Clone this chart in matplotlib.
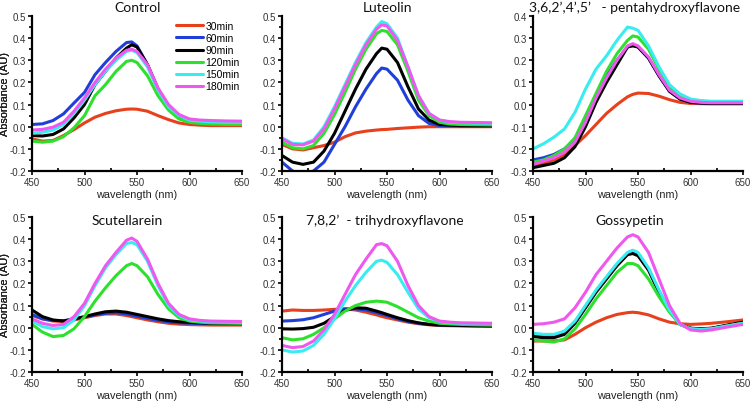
import matplotlib
matplotlib.use("Agg")
import matplotlib.pyplot as plt
from matplotlib.ticker import MultipleLocator, FormatStrFormatter

wavelength = [450, 460, 470, 480, 490, 500, 510, 520, 530, 540, 545, 550,
              560, 570, 580, 590, 600, 610, 620, 635, 650]

labels = ["30min", "60min", "90min", "120min", "150min", "180min"]
colors = ["#e8401c", "#1f3fd8", "#000000", "#2ee02e", "#38ecf0", "#ee58ee"]

titles = ["Control", "Luteolin", "3,6,2\u2019,4\u2019,5\u2019   - pentahydroxyflavone",
          "Scutellarein", "7,8,2\u2019  - trihydroxyflavone", "Gossypetin"]

# ---- Control ----
control_30 = [-0.055, -0.065, -0.062, -0.04, -0.013, 0.017, 0.043, 0.06, 0.072, 0.079, 0.08, 0.079,
              0.07, 0.05, 0.032, 0.017, 0.01, 0.007, 0.005, 0.005, 0.005]
control_60 = [0.01, 0.013, 0.028, 0.058, 0.107, 0.155, 0.235, 0.29, 0.34, 0.38, 0.383, 0.365,
              0.28, 0.17, 0.09, 0.045, 0.025, 0.018, 0.015, 0.013, 0.012]
control_90 = [-0.04, -0.042, -0.035, -0.01, 0.04, 0.10, 0.19, 0.25, 0.31, 0.355, 0.37, 0.36,
              0.28, 0.17, 0.09, 0.045, 0.025, 0.018, 0.015, 0.013, 0.012]
control_120 = [-0.065, -0.07, -0.065, -0.045, -0.005, 0.05, 0.14, 0.19, 0.25, 0.295, 0.30, 0.29,
               0.23, 0.14, 0.075, 0.035, 0.02, 0.015, 0.012, 0.01, 0.01]
control_150 = [-0.03, -0.025, -0.015, 0.01, 0.06, 0.12, 0.19, 0.25, 0.30, 0.34, 0.345, 0.335,
               0.27, 0.165, 0.09, 0.05, 0.03, 0.025, 0.022, 0.02, 0.02]
control_180 = [-0.015, -0.012, -0.002, 0.02, 0.07, 0.13, 0.20, 0.26, 0.31, 0.345, 0.35, 0.34,
               0.28, 0.175, 0.10, 0.055, 0.035, 0.03, 0.028, 0.026, 0.025]

# ---- Luteolin ----
luteolin_30 = [-0.08, -0.1, -0.105, -0.095, -0.085, -0.07, -0.045, -0.028, -0.02, -0.015, -0.013, -0.012,
               -0.008, -0.005, -0.002, 0.0, 0.0, 0.0, 0.0, 0.0, 0.0]
luteolin_60 = [-0.16, -0.2, -0.215, -0.2, -0.16, -0.08, 0.0, 0.09, 0.17, 0.24, 0.265, 0.26,
               0.21, 0.12, 0.05, 0.015, 0.005, 0.004, 0.003, 0.002, 0.002]
luteolin_90 = [-0.13, -0.16, -0.17, -0.16, -0.11, -0.03, 0.07, 0.17, 0.26, 0.33, 0.355, 0.35,
               0.29, 0.18, 0.08, 0.03, 0.01, 0.007, 0.005, 0.005, 0.005]
luteolin_120 = [-0.07, -0.095, -0.1, -0.085, -0.03, 0.055, 0.155, 0.26, 0.35, 0.42, 0.435, 0.43,
                0.37, 0.25, 0.12, 0.05, 0.02, 0.012, 0.01, 0.009, 0.008]
luteolin_150 = [-0.05, -0.075, -0.078, -0.06, 0.0, 0.09, 0.19, 0.29, 0.38, 0.45, 0.475, 0.465,
                0.40, 0.27, 0.14, 0.06, 0.03, 0.02, 0.018, 0.016, 0.015]
luteolin_180 = [-0.055, -0.08, -0.082, -0.065, -0.01, 0.08, 0.18, 0.28, 0.37, 0.44, 0.46, 0.455,
                0.39, 0.27, 0.14, 0.06, 0.03, 0.023, 0.02, 0.019, 0.018]

# ---- 3,6,2',4',5'-pentahydroxyflavone ----
penta_30 = [-0.28, -0.265, -0.25, -0.225, -0.185, -0.14, -0.09, -0.04, 0.0, 0.035, 0.046, 0.052,
            0.05, 0.038, 0.022, 0.01, 0.005, 0.004, 0.003, 0.003, 0.003]
penta_60 = [-0.25, -0.24, -0.225, -0.2, -0.16, -0.07, 0.04, 0.13, 0.2, 0.26, 0.27, 0.26,
            0.21, 0.13, 0.06, 0.025, 0.01, 0.007, 0.005, 0.005, 0.005]
penta_90 = [-0.285, -0.275, -0.265, -0.24, -0.19, -0.1, 0.01, 0.1, 0.18, 0.26, 0.265, 0.26,
            0.21, 0.13, 0.06, 0.025, 0.01, 0.007, 0.005, 0.005, 0.005]
penta_120 = [-0.26, -0.25, -0.23, -0.2, -0.15, -0.05, 0.05, 0.15, 0.23, 0.29, 0.31, 0.305,
             0.25, 0.16, 0.08, 0.04, 0.022, 0.015, 0.012, 0.012, 0.012]
penta_150 = [-0.2, -0.177, -0.147, -0.11, -0.035, 0.07, 0.16, 0.22, 0.29, 0.35, 0.345, 0.335,
             0.265, 0.17, 0.09, 0.048, 0.025, 0.018, 0.015, 0.015, 0.015]
penta_180 = [-0.27, -0.255, -0.24, -0.215, -0.17, -0.08, 0.03, 0.12, 0.2, 0.265, 0.275, 0.265,
             0.215, 0.135, 0.065, 0.03, 0.015, 0.01, 0.008, 0.008, 0.008]

# ---- Scutellarein ----
scut_30 = [0.055, 0.04, 0.03, 0.028, 0.035, 0.045, 0.055, 0.062, 0.062, 0.055, 0.05, 0.045,
           0.035, 0.027, 0.02, 0.016, 0.014, 0.013, 0.012, 0.012, 0.012]
scut_60 = [0.06, 0.04, 0.033, 0.032, 0.038, 0.048, 0.058, 0.065, 0.068, 0.062, 0.057, 0.052,
           0.042, 0.033, 0.026, 0.022, 0.02, 0.019, 0.018, 0.017, 0.017]
scut_90 = [0.08, 0.05, 0.035, 0.03, 0.04, 0.05, 0.062, 0.072, 0.075, 0.07, 0.065, 0.06,
           0.05, 0.04, 0.032, 0.027, 0.024, 0.022, 0.02, 0.02, 0.02]
scut_120 = [0.015, -0.02, -0.04, -0.035, -0.005, 0.05, 0.12, 0.18, 0.235, 0.28, 0.29, 0.28,
            0.23, 0.15, 0.085, 0.045, 0.03, 0.025, 0.022, 0.021, 0.02]
scut_150 = [0.03, 0.005, -0.005, 0.0, 0.035, 0.1, 0.19, 0.27, 0.33, 0.38, 0.385, 0.375,
            0.30, 0.19, 0.1, 0.055, 0.035, 0.03, 0.027, 0.026, 0.025]
scut_180 = [0.04, 0.02, 0.01, 0.015, 0.05, 0.11, 0.2, 0.28, 0.34, 0.395, 0.405, 0.39,
            0.31, 0.2, 0.11, 0.06, 0.04, 0.033, 0.03, 0.029, 0.028]

# ---- 7,8,2'-trihydroxyflavone ----
tri_30 = [0.075, 0.08, 0.078, 0.078, 0.08, 0.083, 0.085, 0.08, 0.07, 0.058, 0.051, 0.045,
          0.035, 0.025, 0.018, 0.013, 0.01, 0.009, 0.008, 0.007, 0.007]
tri_60 = [0.03, 0.032, 0.036, 0.045, 0.06, 0.075, 0.085, 0.085, 0.08, 0.068, 0.061, 0.055,
          0.04, 0.028, 0.02, 0.015, 0.012, 0.011, 0.01, 0.009, 0.008]
tri_90 = [-0.005, -0.006, -0.004, 0.002, 0.02, 0.05, 0.078, 0.09, 0.088, 0.075, 0.068, 0.06,
          0.045, 0.032, 0.022, 0.015, 0.012, 0.011, 0.01, 0.009, 0.008]
tri_120 = [-0.045, -0.055, -0.05, -0.03, 0.0, 0.04, 0.075, 0.1, 0.115, 0.12, 0.118, 0.115,
           0.095, 0.07, 0.045, 0.03, 0.02, 0.017, 0.015, 0.013, 0.012]
tri_150 = [-0.1, -0.11, -0.105, -0.08, -0.03, 0.04, 0.12, 0.19, 0.25, 0.3, 0.305, 0.295,
           0.24, 0.16, 0.085, 0.045, 0.028, 0.022, 0.02, 0.019, 0.018]
tri_180 = [-0.08, -0.09, -0.085, -0.06, -0.01, 0.06, 0.15, 0.24, 0.31, 0.375, 0.38, 0.37,
           0.3, 0.19, 0.1, 0.05, 0.03, 0.025, 0.022, 0.021, 0.02]

# ---- Gossypetin ----
goss_30 = [-0.06, -0.06, -0.06, -0.055, -0.03, 0.0, 0.025, 0.045, 0.06, 0.068, 0.07, 0.068,
           0.058, 0.04, 0.025, 0.018, 0.015, 0.017, 0.02, 0.027, 0.035]
goss_60 = [-0.035, -0.04, -0.04, -0.025, 0.025, 0.095, 0.165, 0.225, 0.285, 0.335, 0.34, 0.33,
           0.265, 0.165, 0.078, 0.015, -0.003, -0.006, -0.003, 0.01, 0.022]
goss_90 = [-0.04, -0.045, -0.045, -0.03, 0.02, 0.09, 0.16, 0.22, 0.28, 0.33, 0.335, 0.325,
           0.26, 0.16, 0.075, 0.015, -0.002, -0.005, -0.002, 0.012, 0.025]
goss_120 = [-0.055, -0.06, -0.065, -0.05, -0.005, 0.06, 0.13, 0.19, 0.25, 0.29, 0.29, 0.28,
            0.22, 0.14, 0.07, 0.015, -0.005, -0.008, -0.005, 0.008, 0.02]
goss_150 = [-0.025, -0.03, -0.03, -0.015, 0.03, 0.1, 0.17, 0.23, 0.29, 0.34, 0.35, 0.34,
            0.27, 0.17, 0.08, 0.015, -0.005, -0.008, -0.005, 0.008, 0.02]
goss_180 = [0.015, 0.018, 0.025, 0.04, 0.09, 0.16, 0.24, 0.3, 0.36, 0.41, 0.42, 0.41,
            0.34, 0.22, 0.1, 0.02, -0.01, -0.015, -0.01, 0.003, 0.015]

panels = [
    [control_30, control_60, control_90, control_120, control_150, control_180],
    [luteolin_30, luteolin_60, luteolin_90, luteolin_120, luteolin_150, luteolin_180],
    [penta_30, penta_60, penta_90, penta_120, penta_150, penta_180],
    [scut_30, scut_60, scut_90, scut_120, scut_150, scut_180],
    [tri_30, tri_60, tri_90, tri_120, tri_150, tri_180],
    [goss_30, goss_60, goss_90, goss_120, goss_150, goss_180],
]
ylims = [(-0.2, 0.5), (-0.2, 0.5), (-0.3, 0.4), (-0.2, 0.5), (-0.2, 0.5), (-0.2, 0.5)]

W, H = 750, 402
fig = plt.figure(figsize=(W / 100, H / 100), dpi=100)

# pixel boxes: (left, top, right, bottom)
boxes = [(32, 17, 242, 172), (282, 17, 492, 172), (533, 17, 743, 172),
         (32, 218, 242, 373), (282, 218, 492, 373), (533, 218, 743, 373)]
# title (center x, center y, target width) in pixels
title_pos = [(138, 8, 60), (388, 8, 50), (635, 8, 205),
             (127, 221, 71), (385, 221, 156), (630, 221, 66)]
xlabel_y = [195, 195, 195, 396, 396, 396]

arial = "Liberation Sans"
cal = ["Lato", "DejaVu Sans"]
renderer = fig.canvas.get_renderer()

title_texts = []
ratios = []
for i, (box, series) in enumerate(zip(boxes, panels)):
    l, t, r, b = box
    ax = fig.add_axes([l / W, 1 - b / H, (r - l) / W, (b - t) / H])
    for s, c, lab in zip(series, colors, labels):
        ax.plot(wavelength, s, color=c, lw=2.2, label=lab, solid_capstyle="round")
    ax.set_xlim(450, 650)
    ax.set_ylim(*ylims[i])
    for sp in ["top", "right"]:
        ax.spines[sp].set_visible(False)
    for sp in ["left", "bottom"]:
        ax.spines[sp].set_linewidth(1.6)
    ax.xaxis.set_major_locator(MultipleLocator(50))
    ax.xaxis.set_minor_locator(MultipleLocator(25))
    ax.yaxis.set_major_locator(MultipleLocator(0.1))
    ax.yaxis.set_minor_locator(MultipleLocator(0.05))
    ax.yaxis.set_major_formatter(FormatStrFormatter("%.1f"))
    ax.tick_params(axis="both", which="major", direction="out", length=3, width=1.2, pad=1.5)
    ax.tick_params(axis="x", which="minor", direction="in", length=2.5, width=1.2)
    ax.tick_params(axis="y", which="minor", direction="out", length=2, width=1.2)
    for lbl in ax.get_xticklabels() + ax.get_yticklabels():
        lbl.set_fontfamily(arial)
        lbl.set_fontsize(7)
        lbl.set_color("#333333")
    ax.set_xlabel("wavelength (nm)", family=arial, fontsize=7.8, color="#222222")
    ax.xaxis.label.set_va("center")
    ax.xaxis.set_label_coords(0.5, (b - xlabel_y[i]) / (b - t))
    ax.set_ylabel("Absorbance (AU)", family=arial, fontsize=7.8, color="#222222")
    ax.yaxis.label.set_va("center")
    ax.yaxis.set_label_coords((5 - l) / (r - l), 0.5)

    tx, ty, tw = title_pos[i]
    txt = fig.text(tx / W, 1 - ty / H, titles[i], ha="center", va="center",
                   family=cal, fontsize=12, color="#111111")
    w0 = txt.get_window_extent(renderer=renderer).width
    ratios.append(tw / w0)
    title_texts.append(txt)

    if i == 0:
        ax.legend(loc="upper left", bbox_to_anchor=(176 / W, 1 - 22 / H),
                  bbox_transform=fig.transFigure, frameon=False,
                  prop=dict(family=arial, size=7.5),
                  handlelength=2.6, handletextpad=0.2, labelspacing=0.2,
                  borderpad=0, borderaxespad=0)

# one common title size: median fit, limited so the long title stays inside
common = sorted(ratios)[len(ratios) // 2]
common = min(common, ratios[2] * 1.03)
for txt in title_texts:
    txt.set_fontsize(12 * common)

fig.savefig("out.png", dpi=100)
